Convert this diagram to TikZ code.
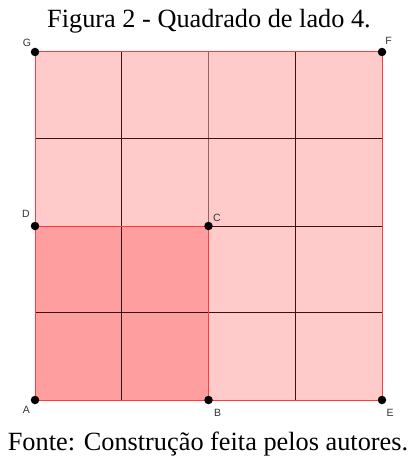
\documentclass[tikz,border=0pt]{standalone}
\usepackage{fontspec}
\setmainfont{Liberation Serif}
\newfontfamily\labelfont{Liberation Sans}
\usetikzlibrary{positioning}

\definecolor{lightsq}{HTML}{FFCACA}
\definecolor{darksq}{HTML}{FF9E9E}
\definecolor{edgered}{HTML}{FF3B3B}
\definecolor{gridline}{HTML}{3A1414}
\definecolor{midline}{HTML}{9A6060}
\definecolor{lbltext}{HTML}{333333}

\begin{document}
\begin{tikzpicture}[
  x=1pt, y=-1pt,
  vertex/.style={circle, fill=black, inner sep=0pt, minimum size=8.5pt},
  lbl/.style={font=\labelfont\fontsize{10.5}{10.5}\selectfont, text=lbltext, inner sep=0pt},
  captext/.style={font=\fontsize{26.3}{28}\selectfont, inner sep=0pt, anchor=base},
  gline/.style={draw=gridline, line width=0.7pt},
  redline/.style={draw=edgered, line width=1pt}
]
  \useasboundingbox (0,0) rectangle (412,457);

  % points of the square
  \coordinate (A) at (35,400);
  \coordinate (B) at (208.5,400);
  \coordinate (E) at (382,400);
  \coordinate (C) at (208.5,226);
  \coordinate (D) at (35,226);
  \coordinate (F) at (382,52);
  \coordinate (G) at (35,52);

  % fills
  \fill[lightsq] (A) rectangle (F);
  \fill[darksq] (A) rectangle (C);

  % grid
  \foreach \x in {121.75,295.25}
    \draw[gline] (\x,52) -- (\x,400);
  \draw[draw=midline, line width=1.2pt] (208.5,52) -- (C);
  \foreach \y in {138.75,312.25}
    \draw[gline] (35,\y) -- (382,\y);
  \draw[gline] (C) -- (382,226);

  % outlines
  \draw[redline] (A) -- (E) -- (F) -- (G) -- cycle;
  \draw[redline] (D) -- (C) -- (B);

  % dots and labels
  \foreach \p in {A,B,C,D,E,F,G}
    \node[vertex] (dot\p) at (\p) {};
  \node[lbl] (lA) at (26.5,409.5) {A};
  \node[lbl] (lB) at (217.5,412.5) {B};
  \node[lbl] (lC) at (217,218) {C};
  \node[lbl] (lD) at (26,214) {D};
  \node[lbl] (lE) at (390,413) {E};
  \node[lbl] (lF) at (388.5,41) {F};
  \node[lbl] (lG) at (27,42.5) {G};

  % captions
  \node[captext] (title) at (209,28) {Figura 2 - Quadrado de lado 4.};
  \node[captext] (source) at (208,450) {Fonte: Construção feita pelos autores.};
\end{tikzpicture}
\end{document}
